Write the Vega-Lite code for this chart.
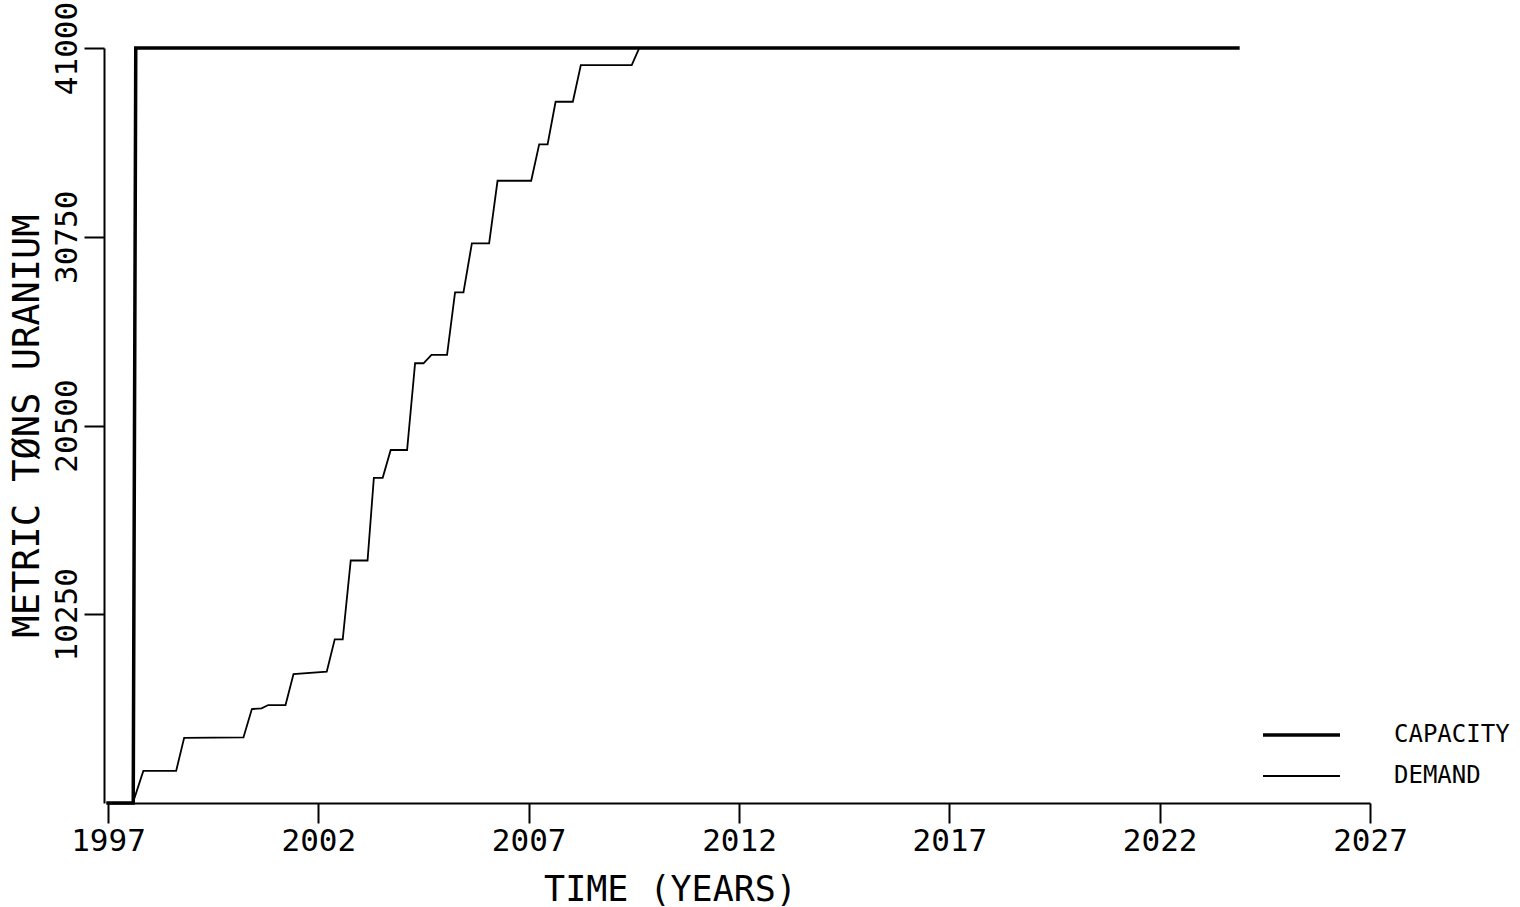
{
  "$schema": "https://vega.github.io/schema/vega-lite/v6.json",
  "width": 1262,
  "height": 755,
  "autosize": {"type": "none"},
  "padding": {"left": 108, "top": 48, "right": 150, "bottom": 104},
  "background": "white",
  "config": {
    "view": {"stroke": null},
    "font": "DejaVu Sans Mono"
  },
  "data": {
    "values": [
      {"series": "CAPACITY", "i": 1, "year": 1997.0, "mtu": 0},
      {"series": "CAPACITY", "i": 2, "year": 1997.6, "mtu": 0},
      {"series": "CAPACITY", "i": 3, "year": 1997.66, "mtu": 41000},
      {"series": "CAPACITY", "i": 4, "year": 2023.86, "mtu": 41000},
      {"series": "DEMAND", "i": 1, "year": 1997.0, "mtu": 0},
      {"series": "DEMAND", "i": 2, "year": 1997.59, "mtu": 0},
      {"series": "DEMAND", "i": 3, "year": 1997.84, "mtu": 1740},
      {"series": "DEMAND", "i": 4, "year": 1998.62, "mtu": 1740},
      {"series": "DEMAND", "i": 5, "year": 1998.81, "mtu": 3540},
      {"series": "DEMAND", "i": 6, "year": 2000.22, "mtu": 3560},
      {"series": "DEMAND", "i": 7, "year": 2000.42, "mtu": 5100},
      {"series": "DEMAND", "i": 8, "year": 2000.65, "mtu": 5140},
      {"series": "DEMAND", "i": 9, "year": 2000.81, "mtu": 5320},
      {"series": "DEMAND", "i": 10, "year": 2001.22, "mtu": 5320},
      {"series": "DEMAND", "i": 11, "year": 2001.41, "mtu": 7000},
      {"series": "DEMAND", "i": 12, "year": 2002.2, "mtu": 7130},
      {"series": "DEMAND", "i": 13, "year": 2002.39, "mtu": 8890},
      {"series": "DEMAND", "i": 14, "year": 2002.58, "mtu": 8890},
      {"series": "DEMAND", "i": 15, "year": 2002.77, "mtu": 13170},
      {"series": "DEMAND", "i": 16, "year": 2003.17, "mtu": 13170},
      {"series": "DEMAND", "i": 17, "year": 2003.32, "mtu": 17660},
      {"series": "DEMAND", "i": 18, "year": 2003.53, "mtu": 17660},
      {"series": "DEMAND", "i": 19, "year": 2003.72, "mtu": 19170},
      {"series": "DEMAND", "i": 20, "year": 2004.11, "mtu": 19170},
      {"series": "DEMAND", "i": 21, "year": 2004.3, "mtu": 23880},
      {"series": "DEMAND", "i": 22, "year": 2004.5, "mtu": 23880},
      {"series": "DEMAND", "i": 23, "year": 2004.69, "mtu": 24340},
      {"series": "DEMAND", "i": 24, "year": 2005.06, "mtu": 24340},
      {"series": "DEMAND", "i": 25, "year": 2005.25, "mtu": 27730},
      {"series": "DEMAND", "i": 26, "year": 2005.45, "mtu": 27730},
      {"series": "DEMAND", "i": 27, "year": 2005.65, "mtu": 30390},
      {"series": "DEMAND", "i": 28, "year": 2006.06, "mtu": 30390},
      {"series": "DEMAND", "i": 29, "year": 2006.26, "mtu": 33790},
      {"series": "DEMAND", "i": 30, "year": 2007.06, "mtu": 33790},
      {"series": "DEMAND", "i": 31, "year": 2007.25, "mtu": 35770},
      {"series": "DEMAND", "i": 32, "year": 2007.45, "mtu": 35770},
      {"series": "DEMAND", "i": 33, "year": 2007.64, "mtu": 38080},
      {"series": "DEMAND", "i": 34, "year": 2008.05, "mtu": 38080},
      {"series": "DEMAND", "i": 35, "year": 2008.24, "mtu": 40070},
      {"series": "DEMAND", "i": 36, "year": 2009.45, "mtu": 40070},
      {"series": "DEMAND", "i": 37, "year": 2009.63, "mtu": 41000}
    ]
  },
  "mark": {"type": "line", "strokeCap": "square", "strokeJoin": "miter"},
  "encoding": {
    "x": {
      "field": "year",
      "type": "quantitative",
      "scale": {"domain": [1997, 2027], "nice": false, "zero": false},
      "axis": {
        "values": [1997, 2002, 2007, 2012, 2017, 2022, 2027],
        "format": "d",
        "grid": false,
        "labelFlush": false,
        "labelOverlap": false,
        "domainColor": "black",
        "domainWidth": 2,
        "tickColor": "black",
        "tickWidth": 2,
        "tickSize": 20,
        "labelFont": "DejaVu Sans Mono",
        "labelFontSize": 31,
        "labelColor": "black",
        "labelPadding": 3,
        "title": "TIME (YEARS)",
        "titleFont": "DejaVu Sans Mono",
        "titleFontSize": 35,
        "titleFontWeight": "normal",
        "titleColor": "black",
        "titleX": 562,
        "titleY": 97,
        "titleAlign": "center",
        "titleBaseline": "alphabetic"
      }
    },
    "y": {
      "field": "mtu",
      "type": "quantitative",
      "scale": {"domain": [0, 41000], "nice": false},
      "axis": {
        "values": [10250, 20500, 30750, 41000],
        "format": "d",
        "grid": false,
        "labelFlush": false,
        "labelOverlap": false,
        "offset": 4,
        "domainColor": "black",
        "domainWidth": 2,
        "tickColor": "black",
        "tickWidth": 2,
        "tickSize": 20,
        "labelAngle": -90,
        "labelAlign": "center",
        "labelBaseline": "bottom",
        "labelFont": "DejaVu Sans Mono",
        "labelFontSize": 31,
        "labelColor": "black",
        "labelPadding": 1,
        "title": "METRIC TØNS URANIUM",
        "titleFont": "DejaVu Sans Mono",
        "titleFontSize": 37,
        "titleFontWeight": "normal",
        "titleColor": "black",
        "titlePadding": 5
      }
    },
    "color": {
      "field": "series",
      "type": "nominal",
      "scale": {"domain": ["CAPACITY", "DEMAND"], "range": ["black", "black"]},
      "legend": {
        "title": null,
        "orient": "none",
        "legendX": 1153,
        "legendY": 677,
        "padding": 0,
        "symbolType": "stroke",
        "symbolSize": 5929,
        "symbolStrokeColor": "black",
        "clipHeight": 20,
        "rowPadding": 17,
        "labelOffset": 52,
        "labelFont": "DejaVu Sans Mono",
        "labelFontSize": 24,
        "labelColor": "black"
      }
    },
    "strokeWidth": {
      "field": "series",
      "type": "nominal",
      "scale": {"domain": ["CAPACITY", "DEMAND"], "range": [3.5, 1.8]},
      "legend": null
    },
    "order": {"field": "i", "type": "quantitative"}
  }
}
